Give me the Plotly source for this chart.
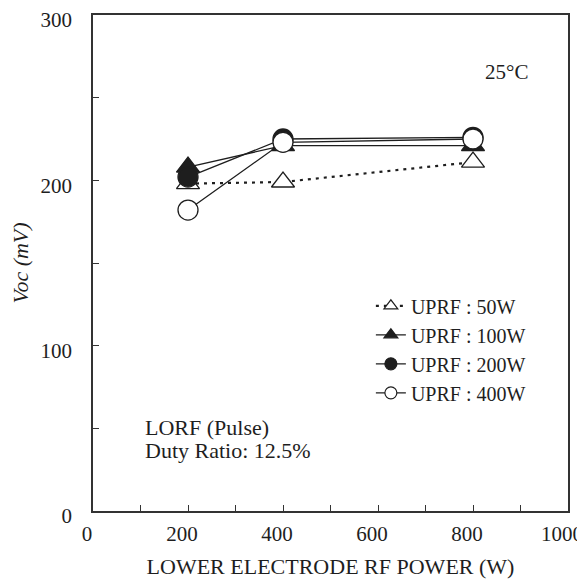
import plotly.graph_objects as go

power = [200, 400, 800]
voc_50w = [198, 199, 211]
voc_100w = [208, 221, 221]
voc_200w = [202, 225, 226]
voc_400w = [182, 223, 225]
series_names = ["UPRF : 50W", "UPRF : 100W", "UPRF : 200W", "UPRF : 400W"]
x_ticks = [0, 200, 400, 600, 800, 1000]
x_minor = [100, 300, 500, 700, 900]
y_ticks = [0, 100, 200, 300]
y_minor = [50, 150, 250]

FONT = "Liberation Serif"
INK = "#1e1e1e"
AX = "#333333"

fig = go.Figure()
styles = [
    (voc_50w, "triangle-up", "white", "3px,5px", 2.2),
    (voc_100w, "triangle-up", INK, "solid", 1.3),
    (voc_200w, "circle", INK, "solid", 1.3),
    (voc_400w, "circle", "white", "solid", 1.3),
]
for name, (vals, sym, fill, dash, lw) in zip(series_names, styles):
    fig.add_trace(go.Scatter(
        x=power, y=vals, name=name, mode="lines+markers", showlegend=False,
        line=dict(color=INK, width=lw, dash=dash),
        marker=dict(symbol=sym, size=20, color=fill, line=dict(color=INK, width=1.3)),
    ))
for name, (vals, sym, fill, dash, lw) in zip(series_names, styles):
    fig.add_trace(go.Scatter(
        x=[None], y=[None], name=name, mode="lines+markers",
        line=dict(color=INK, width=lw, dash=dash),
        marker=dict(symbol=sym, size=12, color=fill, line=dict(color=INK, width=1.2)),
    ))

axis_common = dict(
    showline=True, linecolor=AX, linewidth=1.5, mirror=True,
    ticks="inside", ticklen=6, tickcolor=AX, tickwidth=1.3,
    showgrid=False, zeroline=False, automargin=False,
    ticklabeloverflow="allow",
    tickfont=dict(family=FONT, size=21, color=INK),
)
minor_common = dict(ticks="inside", ticklen=6, tickcolor=AX, tickwidth=1.3)

fig.update_layout(
    width=577, height=571,
    margin=dict(l=85, r=17, t=7, b=68),
    paper_bgcolor="white", plot_bgcolor="white",
    font=dict(family=FONT, size=21, color=INK),
    xaxis=dict(range=[0, 1000], tickvals=x_ticks,
               minor=dict(tickvals=x_minor, **minor_common),
               ticklabelstandoff=3, ticklabelshift=-6,
               title=dict(text="LOWER ELECTRODE RF POWER (W)", font=dict(family=FONT, size=22, color=INK), standoff=15),
               **axis_common),
    yaxis=dict(range=[0, 300], tickvals=y_ticks,
               minor=dict(tickvals=y_minor, **minor_common),
               ticklabelstandoff=15, ticklabelshift=5,
               title=dict(text="<i>Voc (mV)</i>", font=dict(family=FONT, size=22, color=INK), standoff=9),
               **axis_common),
    legend=dict(x=0.585, y=0.453, xanchor="left", yanchor="top",
                bgcolor="rgba(0,0,0,0)", font=dict(family=FONT, size=20, color=INK),
                tracegroupgap=0, itemwidth=30),
    showlegend=True,
)

fig.add_annotation(x=0.919, y=0.914, xref="paper", yref="paper", text="25°C",
                   showarrow=False, font=dict(family=FONT, size=21, color=INK))
fig.add_annotation(x=0.105, y=0.168, xref="paper", yref="paper", xanchor="left", yanchor="middle",
                   text="LORF (Pulse)", showarrow=False, font=dict(family=FONT, size=22, color=INK))
fig.add_annotation(x=0.105, y=0.121, xref="paper", yref="paper", xanchor="left", yanchor="middle",
                   text="Duty Ratio: 12.5%", showarrow=False, font=dict(family=FONT, size=22, color=INK))

fig.write_html("out.html")
